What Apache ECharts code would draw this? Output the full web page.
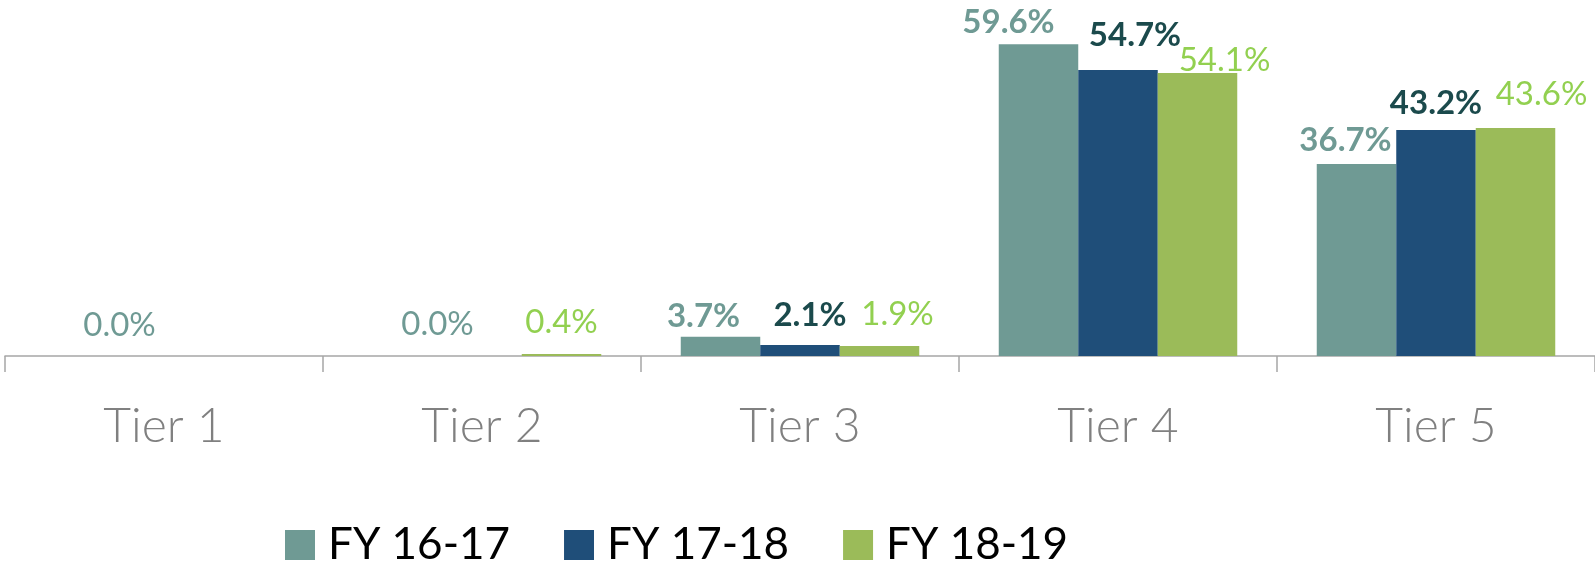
<!DOCTYPE html>
<html><head><meta charset="utf-8">
<script src="https://cdn.jsdelivr.net/npm/echarts@6/dist/echarts.min.js"></script>
<style>html,body{margin:0;padding:0;background:#fff}#c{width:1595px;height:562px}</style>
</head><body><div id="c"></div>
<script>
const categories = ['Tier 1', 'Tier 2', 'Tier 3', 'Tier 4', 'Tier 5'];
const seriesNames = ['FY 16-17', 'FY 17-18', 'FY 18-19'];
const fy1617 = [0.0, 0.0, 3.7, 59.6, 36.7];
const fy1718 = [0.0, 0.0, 2.1, 54.7, 43.2];
const fy1819 = [0.0, 0.4, 1.9, 54.1, 43.6];
// which values carry a visible label
const showLabel1617 = [true, true, true, true, true];
const showLabel1718 = [false, false, true, true, true];
const showLabel1819 = [false, true, true, true, true];
// label style per item (bold or not)
const bold1617 = [false, false, true, true, true];
const bold1718 = [true, true, true, true, true];
const bold1819 = [false, false, false, false, false];
// label nudges (layout only)
const off1617 = [[35,-9],[35,-10],[-17,1],[-30,0],[-11,-2]];
const off1718 = [[0,0],[0,0],[10,-8],[17,-13],[0,-5]];
const off1819 = [[0,0],[0,-10],[18,-10],[27,9],[26,-12]];

const barColors = ['#6f9a94', '#1f4e79', '#9bbb59'];
const labelColors = ['#6f9a94', '#1b4a4c', '#92d050'];

function mkData(vals, show, bold, offs, color) {
  return vals.map((v, i) => ({
    value: v,
    label: {
      show: show[i],
      fontWeight: bold[i] ? 'bold' : 'normal',
      offset: offs[i],
      color: color
    }
  }));
}
const allVals = [fy1617, fy1718, fy1819];
const allShow = [showLabel1617, showLabel1718, showLabel1819];
const allBold = [bold1617, bold1718, bold1819];
const allOff = [off1617, off1718, off1819];

const chart = echarts.init(document.getElementById('c'));
chart.setOption({
  animation: false,
  textStyle: { fontFamily: 'Lato' },
  grid: { left: 5, right: 0, top: 16, bottom: 206, containLabel: false },
  legend: {
    data: seriesNames,
    left: 280, top: 518,
    itemWidth: 30, itemHeight: 30, itemGap: 54,
    icon: 'rect',
    textStyle: { fontSize: 44, color: '#000', fontFamily: 'Lato', padding: [0,0,0,8] }
  },
  xAxis: {
    type: 'category', data: categories,
    axisLine: { lineStyle: { color: '#a6a6a6', width: 1.5 } },
    axisTick: { show: true, length: 16, lineStyle: { color: '#a6a6a6', width: 1.5 } },
    axisLabel: { fontSize: 48, color: '#808080', fontWeight: 300, margin: 47, fontFamily: 'Lato' }
  },
  yAxis: { type: 'value', min: 0, max: 65, show: false, splitLine: { show: false } },
  series: seriesNames.map((n, k) => ({
    name: n, type: 'bar',
    barGap: '0%', barCategoryGap: '25%',
    itemStyle: { color: barColors[k] },
    label: {
      show: true, position: 'top', distance: 5,
      fontSize: 33, fontFamily: 'Lato', color: labelColors[k],
      formatter: p => p.value.toFixed(1) + '%'
    },
    data: mkData(allVals[k], allShow[k], allBold[k], allOff[k], labelColors[k])
  }))
});
</script></body></html>
